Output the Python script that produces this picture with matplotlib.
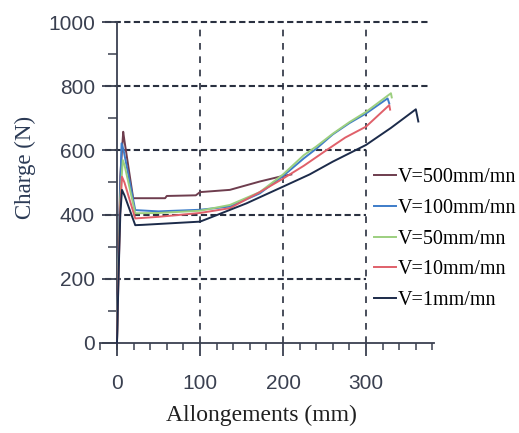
import matplotlib
matplotlib.use("Agg")
import matplotlib.pyplot as plt
from matplotlib.ticker import MultipleLocator

# ---- data ----
labels = ["V=500mm/mn", "V=100mm/mn", "V=50mm/mn", "V=10mm/mn", "V=1mm/mn"]
colors = ["#6e3d4e", "#3d7cc9", "#9ccf7f", "#e0606a", "#1c2b4a"]

x_500 = [0, 2, 4, 7.5, 9, 19.5, 40, 58, 60, 95, 100, 136, 172, 196, 210]
y_500 = [0, 300, 520, 658, 630, 451, 451, 451, 458, 460, 470, 477, 503, 518, 525]

x_100 = [0, 2, 4, 5.5, 8, 22, 50, 100, 136, 172, 200, 225, 240, 260, 280, 300, 326, 328]
y_100 = [0, 280, 480, 622, 600, 414, 410, 415, 425, 466, 520, 575, 605, 650, 685, 715, 762, 746]

x_50 = [0, 2, 4, 7, 9, 22, 50, 100, 136, 172, 200, 225, 240, 260, 280, 300, 330, 331]
y_50 = [0, 260, 450, 570, 555, 404, 405, 412, 430, 470, 525, 585, 612, 652, 688, 720, 778, 765]

x_10 = [0, 2, 4, 6, 9, 22, 50, 100, 136, 172, 200, 225, 252, 275, 300, 328, 329]
y_10 = [0, 230, 420, 518, 500, 388, 393, 405, 420, 470, 512, 552, 600, 640, 674, 741, 727]

x_1 = [0, 2, 4, 6, 9, 22, 31, 100, 110, 156, 200, 232, 260, 300, 330, 360, 363]
y_1 = [0, 220, 400, 477, 460, 367, 368, 378, 388, 435, 487, 525, 565, 617, 670, 728, 690]

xs = [x_500, x_100, x_50, x_10, x_1]
ys = [y_500, y_100, y_50, y_10, y_1]

x_major = [0, 100, 200, 300]
y_major = [0, 200, 400, 600, 800, 1000]

# ---- figure ----
fig = plt.figure(figsize=(5.19, 4.33), dpi=100)
ax = fig.add_axes([0.1934, 0.1894, 0.6478, 0.7672])
ax.set_xlim(-20, 385)
ax.set_ylim(-25, 1010)

axis_col = "#3a4050"
grid_col = "#2a3040"

# grid: vertical dashed lines
for xv in x_major[1:]:
    ax.plot([xv, xv], [0, 985], color=grid_col, lw=1.2,
            linestyle=(0, (4, 4)), zorder=1)
# horizontal dashed lines
for yv in y_major[1:]:
    xend = 377 if yv >= 800 else 300
    ax.plot([-14, xend], [yv, yv], color=grid_col, lw=1.5,
            linestyle=(0, (3, 1.6)), zorder=1)

# curves
for x, y, c, lab in zip(xs, ys, colors, labels):
    ax.plot(x, y, color=c, lw=1.4, label=lab, zorder=3)

# spines
for s in ["top", "right"]:
    ax.spines[s].set_visible(False)
ax.spines["left"].set_position(("data", 0))
ax.spines["bottom"].set_position(("data", 0))
ax.spines["left"].set_bounds(-20, 1000)
ax.spines["bottom"].set_bounds(-20, 382)
for s in ["left", "bottom"]:
    ax.spines[s].set_color(axis_col)
    ax.spines[s].set_linewidth(1.3)

ax.xaxis.set_major_locator(MultipleLocator(100))
ax.xaxis.set_minor_locator(MultipleLocator(20))
ax.yaxis.set_major_locator(MultipleLocator(200))
ax.yaxis.set_minor_locator(MultipleLocator(100))

tick_font = ["Liberation Sans", "DejaVu Sans"]
ax.tick_params(axis="x", which="major", direction="out", length=9, width=1.3,
               color=axis_col, pad=13, labelsize=15, labelcolor="#3a4050")
ax.tick_params(axis="x", which="minor", direction="out", length=5, width=1.1,
               color=axis_col)
ax.tick_params(axis="y", which="major", direction="out", length=11, width=1.3,
               color=axis_col, pad=5, labelsize=15, labelcolor="#3a4050")
ax.tick_params(axis="y", which="minor", direction="out", length=6.5, width=1.1,
               color=axis_col)
ax.set_xticks(x_major)
ax.set_yticks(y_major)
ax.set_xticklabels([str(v) for v in x_major], family=tick_font)
ax.set_yticklabels([str(v) for v in y_major], family=tick_font)

# legend
leg = ax.legend(loc="upper left", bbox_to_anchor=(310, 545),
                bbox_transform=ax.transData, frameon=False,
                prop={"family": "Liberation Serif", "size": 14.5},
                handlelength=1.1, handletextpad=0.05, labelspacing=0.58,
                borderpad=0, borderaxespad=0)
for h in leg.get_lines():
    h.set_linewidth(1.4)

# axis labels
fig.text(25 / 519, 1 - 167 / 433, "Charge (N)", rotation=90, ha="center",
         va="center", family="Liberation Serif", fontsize=16.5, color="#2b3a55")
fig.text(261 / 519, 1 - 415 / 433, "Allongements (mm)", ha="center",
         va="center", family="Liberation Serif", fontsize=17, color="#202020")

fig.savefig("out.png", dpi=100)
